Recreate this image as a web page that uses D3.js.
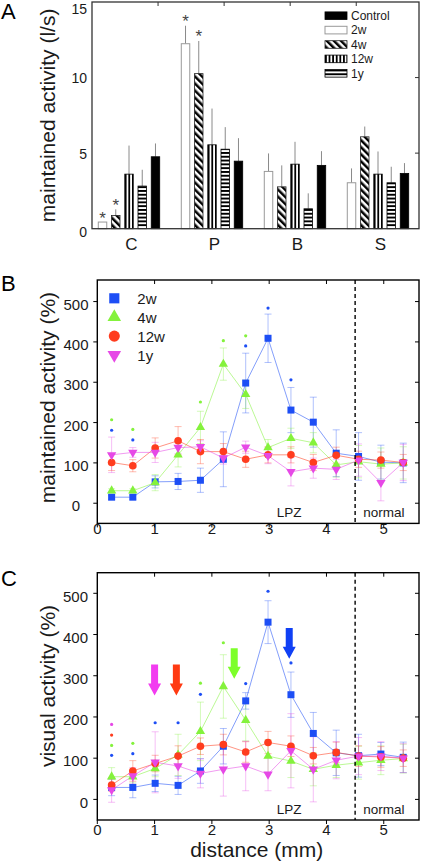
<!DOCTYPE html>
<html><head><meta charset="utf-8">
<script src="https://cdn.jsdelivr.net/npm/d3@7"></script>
<style>body{margin:0;background:#fff}svg{display:block;font-family:"Liberation Sans",Arial,sans-serif}</style>
</head><body><svg id="c" width="425" height="868"></svg>
<script>
// ---------- Panel A data ----------
const categories = ['C','P','B','S'];
const barSeries = ['2w','4w','12w','1y','Control'];
const bar2w = [0.44, 12.24, 3.79, 3.04];
const bar2wErr = [0.0, 1.19, 1.19, 0.95];
const bar4w = [0.88, 10.26, 2.77, 6.08];
const bar4wErr = [0.40, 2.16, 1.42, 0.68];
const bar12w = [3.61, 5.55, 4.27, 3.61];
const bar12wErr = [1.89, 2.40, 1.48, 1.50];
const bar1y = [2.82, 5.26, 1.32, 3.04];
const bar1yErr = [1.08, 1.46, 1.02, 1.06];
const barControl = [4.76, 4.47, 4.19, 3.66];
const barControlErr = [0.88, 1.52, 0.94, 0.68];
const starredBars = [['C','2w'],['C','4w'],['P','2w'],['P','4w']];
const yTicksA = [0,5,10,15];
const legendOrderA = ['Control','2w','4w','12w','1y'];

// ---------- Panels B/C data ----------
const seriesKeys = ['2w','4w','12w','1y'];
const distances = [0.25, 0.62, 1.01, 1.41, 1.8, 2.2, 2.59, 2.98, 3.38, 3.77, 4.17, 4.56, 4.95, 5.34];
const b2w   = [15, 15, 53, 54, 57, 109, 298, 409, 231, 201, 124, 116, 102, 100];
const b2wErr= [5, 5, 15, 20, 30, 68, 74, 60, 56, 62, 58, 59, 42, 49];
const b4w   = [31, 31, 51, 120, 188, 345, 270, 138, 161, 150, 95, 103, 97, 100];
const b4wErr= [5, 5, 20, 30, 40, 40, 35, 20, 25, 25, 30, 40, 40, 40];
const b12w  = [101, 93, 137, 155, 128, 128, 109, 120, 120, 101, 119, 109, 107, 101];
const b12wErr=[20, 15, 25, 35, 30, 20, 20, 20, 20, 20, 20, 20, 20, 20];
const b1y   = [120, 126, 126, 138, 140, 112, 139, 118, 78, 87, 84, 107, 51, 101];
const b1yErr= [44, 12, 25, 15, 15, 15, 15, 20, 35, 25, 25, 40, 45, 45];

const c2w   = [29, 29, 39, 34, 69, 129, 239, 430, 254, 160, 113, 106, 110, 102];
const c2wErr= [20, 25, 20, 22, 30, 43, 20, 52, 55, 51, 55, 52, 28, 37];
const c4w   = [55, 55, 75, 108, 165, 274, 192, 105, 93, 73, 83, 89, 95, 99];
const c4wErr= [22, 15, 20, 50, 71, 77, 50, 40, 40, 40, 30, 40, 35, 35];
const c12w  = [35, 69, 87, 105, 129, 133, 115, 138, 129, 106, 114, 105, 103, 100];
const c12wErr=[15, 25, 20, 25, 20, 25, 25, 27, 25, 20, 25, 25, 25, 20];
const c1y   = [23, 57, 90, 81, 63, 73, 81, 61, 118, 73, 95, 105, 105, 100];
const c1yErr= [30, 20, 74, 30, 35, 65, 60, 40, 90, 79, 45, 45, 35, 35];

const sigB = [['2w',0,181],['2w',1,157],['2w',6,390],['2w',7,484],['2w',8,306],
              ['4w',0,207],['4w',1,183],['4w',4,251],['4w',5,403],['4w',6,415]];
const sigC = [['2w',0,107],['2w',1,111],['2w',2,186],['2w',3,186],['2w',4,255],['2w',6,281],['2w',7,505],['2w',8,331],
              ['4w',0,131],['4w',1,136],['4w',4,282],['4w',5,380],['12w',0,156],['1y',0,182]];
const arrowSeries = ['1y','12w','4w','2w'];
const arrowX = [1.0, 1.38, 2.39, 3.35];
const arrowFrom = [327, 327, 367, 416];
const arrowTo = [252, 252, 293, 341];
const xTicksBC = [0,1,2,3,4,5];
const yTicksBC = [0,100,200,300,400,500];
const boundaryX = 4.5;

// ---------- styles ----------
const FONT_DARK = '#1a1a1a';
const seriesColors = {'2w':'#1d4ef5','4w':'#84f23c','12w':'#ff3c1e','1y':'#e648e6'};
const arrowColors = {'2w':'#1040f5','4w':'#7dff2a','12w':'#ff3a12','1y':'#f23cf0'};

const svg = d3.select('#c');
const defs = svg.append('defs');
const pd = defs.append('pattern').attr('id','pDiag').attr('patternUnits','userSpaceOnUse')
  .attr('width',5).attr('height',5).attr('patternTransform','rotate(-45)');
pd.append('rect').attr('width',5).attr('height',5).attr('fill','#fff');
pd.append('rect').attr('width',2.5).attr('height',5).attr('fill','#000');
const pv = defs.append('pattern').attr('id','pVert').attr('patternUnits','userSpaceOnUse')
  .attr('width',3.6).attr('height',10);
pv.append('rect').attr('width',3.6).attr('height',10).attr('fill','#fff');
pv.append('rect').attr('width',1.8).attr('height',10).attr('fill','#000');
const ph = defs.append('pattern').attr('id','pHoriz').attr('patternUnits','userSpaceOnUse')
  .attr('width',10).attr('height',3.8);
ph.append('rect').attr('width',10).attr('height',3.8).attr('fill','#fff');
ph.append('rect').attr('width',10).attr('height',1.9).attr('fill','#000');

const barStyle = {
  '2w': {fill:'#fff', stroke:'#999', sw:1},
  '4w': {fill:'url(#pDiag)', stroke:'#222', sw:0.8},
  '12w': {fill:'url(#pVert)', stroke:'#000', sw:0.8},
  '1y': {fill:'url(#pHoriz)', stroke:'#000', sw:0.8},
  'Control': {fill:'#000', stroke:'#000', sw:0.8}
};

// ================= Panel A =================
const barVals = {'2w':bar2w,'4w':bar4w,'12w':bar12w,'1y':bar1y,'Control':barControl};
const barErrs = {'2w':bar2wErr,'4w':bar4wErr,'12w':bar12wErr,'1y':bar1yErr,'Control':barControlErr};
const x0 = d3.scaleBand().domain(categories).range([87.5,419.5]);
const x1 = d3.scaleBand().domain(barSeries).range([-33.1,33.1]).paddingInner(0.36).paddingOuter(0.18);
const yA = d3.scaleLinear().domain([0,15]).range([228.7,2]);
const xNumA = d3.scaleLinear().domain([0,4.95]).range([92,419]);
const gA = svg.append('g');

barSeries.forEach(s => {
  categories.forEach((c,j) => {
    const v = barVals[s][j], e = barErrs[s][j];
    const bx = x0(c) + x0.bandwidth()/2 + x1(s);
    const bw = x1.bandwidth();
    const g = gA.append('g').attr('transform',`translate(${bx},0)`);
    if (e > 0) g.append('line').attr('x1',bw/2).attr('x2',bw/2).attr('y1',yA(v)).attr('y2',yA(v+e))
      .attr('stroke','#8a8a8a').attr('stroke-width',1);
    const st = barStyle[s];
    g.append('rect').attr('x',0).attr('y',yA(v)).attr('width',bw).attr('height',yA(0)-yA(v))
      .attr('fill',st.fill).attr('stroke',st.stroke).attr('stroke-width',st.sw);
  });
});
starredBars.forEach(([c,s]) => {
  const j = categories.indexOf(c);
  const v = barVals[s][j] + barErrs[s][j];
  gA.append('text').attr('x', x0(c)+x0.bandwidth()/2 + x1(s) + x1.bandwidth()/2)
    .attr('y', yA(v) - 8 + 9.5).attr('text-anchor','middle').attr('font-size',17).attr('fill','#444').text('*');
});
gA.append('rect').attr('x',92).attr('y',yA(15)).attr('width',327).attr('height',yA(0)-yA(15))
  .attr('fill','none').attr('stroke','#333').attr('stroke-width',1.3);
[1,2,3,4].forEach(t => gA.append('line').attr('x1',xNumA(t)).attr('x2',xNumA(t)).attr('y1',yA(15)).attr('y2',yA(15)+4).attr('stroke','#333'));
[5,10].forEach(t => gA.append('line').attr('x1',419).attr('x2',415).attr('y1',yA(t)).attr('y2',yA(t)).attr('stroke','#333'));
yTicksA.forEach(t => gA.append('text').attr('x',87).attr('y',Math.max(13.5, yA(t)+5.5 + (t===0?3:0))).attr('text-anchor','end')
  .attr('font-size',14).attr('fill',FONT_DARK).text(t));
categories.forEach(c => gA.append('text').attr('x',x0(c)+x0.bandwidth()/2+2.5).attr('y',250)
  .attr('text-anchor','middle').attr('font-size',17).attr('fill',FONT_DARK).text(c));
gA.append('text').attr('transform',`translate(55,${(yA(0)+yA(15))/2}) rotate(-90)`).attr('text-anchor','middle')
  .attr('font-size',21).attr('fill',FONT_DARK).text('maintained activity (l/s)');
legendOrderA.forEach((s,i) => {
  const cy = 15.7 + i*14.4;
  const g = gA.append('g').attr('transform',`translate(325,${cy-3.8})`);
  const st = barStyle[s];
  g.append('rect').attr('width',22).attr('height',7.6).attr('fill',st.fill).attr('stroke',st.stroke).attr('stroke-width',st.sw);
  gA.append('text').attr('x',351).attr('y',cy+4.3).attr('font-size',12).attr('fill',FONT_DARK).text(s);
});
svg.append('text').attr('x',1).attr('y',19).attr('font-size',22).attr('fill','#000').text('A');

// ================= Panels B & C =================
const symbolOf = {'2w':d3.symbolSquare,'4w':d3.symbolTriangle,'12w':d3.symbolCircle,'1y':d3.symbolTriangle};
const sizeOf = {'2w':49,'4w':38,'12w':46,'1y':38};
const rotOf = {'2w':0,'4w':0,'12w':0,'1y':180};

function linePanel(o) {
  const x = d3.scaleLinear().domain([0,5.615]).range([97.3,419]);
  const y = o.y;
  const g = svg.append('g');
  const [yb, yt] = y.range();
  seriesKeys.forEach(s => {
    const col = seriesColors[s];
    o.vals[s].forEach((v,i) => {
      const e = o.errs[s][i], cx = x(distances[i]);
      const eg = g.append('g').attr('stroke',col).attr('stroke-opacity',0.35).attr('stroke-width',1);
      eg.append('line').attr('x1',cx).attr('x2',cx).attr('y1',y(v-e)).attr('y2',y(v+e));
      eg.append('line').attr('x1',cx-3.5).attr('x2',cx+3.5).attr('y1',y(v-e)).attr('y2',y(v-e));
      eg.append('line').attr('x1',cx-3.5).attr('x2',cx+3.5).attr('y1',y(v+e)).attr('y2',y(v+e));
    });
  });
  const line = d3.line().x((d,i)=>x(distances[i])).y(d=>y(d));
  seriesKeys.forEach(s => {
    g.append('path').attr('d',line(o.vals[s])).attr('fill','none').attr('stroke',seriesColors[s])
      .attr('stroke-opacity',0.55).attr('stroke-width',1);
  });
  seriesKeys.forEach(s => {
    const sym = d3.symbol().type(symbolOf[s]).size(sizeOf[s]);
    o.vals[s].forEach((v,i) => {
      g.append('path').attr('d',sym()).attr('fill',seriesColors[s])
        .attr('transform',`translate(${x(distances[i])},${y(v)}) rotate(${rotOf[s]})`);
    });
  });
  o.sig.forEach(([s,i,v]) => g.append('circle').attr('cx',x(distances[i])).attr('cy',y(v)).attr('r',1.6).attr('fill',seriesColors[s]));
  if (o.arrows) {
    arrowSeries.forEach((s,i) => {
      const cx = x(arrowX[i]), t = y(arrowFrom[i]), tip = y(arrowTo[i]), hb = tip - 12;
      g.append('path').attr('fill',arrowColors[s])
        .attr('d',`M${cx-3.5},${t}L${cx+3.5},${t}L${cx+3.5},${hb}L${cx+6.5},${hb}L${cx},${tip}L${cx-6.5},${hb}L${cx-3.5},${hb}Z`);
    });
  }
  g.append('line').attr('x1',x(boundaryX)).attr('x2',x(boundaryX)).attr('y1',yt).attr('y2',yb)
    .attr('stroke','#000').attr('stroke-width',1.4).attr('stroke-dasharray','4,3');
  g.append('rect').attr('x',97.3).attr('y',yt).attr('width',419-97.3).attr('height',yb-yt)
    .attr('fill','none').attr('stroke','#000').attr('stroke-width',1.4);
  xTicksBC.forEach(t => {
    if (t>0) g.append('line').attr('x1',x(t)).attr('x2',x(t)).attr('y1',yt).attr('y2',yt+4).attr('stroke','#000');
    g.append('line').attr('x1',x(t)).attr('x2',x(t)).attr('y1',yb).attr('y2',yb+4).attr('stroke','#000');
    g.append('text').attr('x',x(t)).attr('y',yb+o.xLabOff).attr('text-anchor','middle').attr('font-size',15)
      .attr('fill',FONT_DARK).text(t);
  });
  yTicksBC.forEach(t => {
    g.append('line').attr('x1',419).attr('x2',415).attr('y1',y(t)).attr('y2',y(t)).attr('stroke','#000');
    g.append('line').attr('x1',97.3).attr('x2',93.3).attr('y1',y(t)).attr('y2',y(t)).attr('stroke','#000');
    g.append('text').attr('x',o.yLabX).attr('y',y(t)+8.2).attr('text-anchor',o.yLabAnchor).attr('font-size',15)
      .attr('fill',FONT_DARK).text(t);
  });
  g.append('text').attr('x',x(3.35)).attr('y',yb-6).attr('text-anchor','middle').attr('font-size',13.5).attr('fill',FONT_DARK).text('LPZ');
  g.append('text').attr('x',x(5)).attr('y',yb-6).attr('text-anchor','middle').attr('font-size',13.5).attr('fill',FONT_DARK).text('normal');
  g.append('text').attr('transform',`translate(55,${o.yTitleY}) rotate(-90)`).attr('text-anchor','middle')
    .attr('font-size',21).attr('fill',FONT_DARK).text(o.yTitle);
  if (o.legend) {
    seriesKeys.forEach((s,i) => {
      const cy = 298.3 + i*18.9;
      const sym = d3.symbol().type(symbolOf[s]).size(sizeOf[s]*2.1);
      g.append('path').attr('d',sym()).attr('fill',seriesColors[s])
        .attr('transform',`translate(114.3,${cy}) rotate(${rotOf[s]})`);
      g.append('text').attr('x',137.3).attr('y',cy+5.5).attr('font-size',15).attr('fill',FONT_DARK).text(s);
    });
  }
  svg.append('text').attr('x',1).attr('y',o.panelY).attr('font-size',22).attr('fill','#000').text(o.panel);
}

linePanel({
  panel:'B', panelY:291,
  y: d3.scaleLinear().domain([-50,553.5]).range([523.4,280]),
  vals:{'2w':b2w,'4w':b4w,'12w':b12w,'1y':b1y},
  errs:{'2w':b2wErr,'4w':b4wErr,'12w':b12wErr,'1y':b1yErr},
  sig:sigB, arrows:false, legend:true,
  yTitle:'maintained activity (%)', yTitleY:397.5,
  xLabOff:10.5, yLabX:76, yLabAnchor:'middle'
});
linePanel({
  panel:'C', panelY:586,
  y: d3.scaleLinear().domain([-50,550]).range([820,572.7]),
  vals:{'2w':c2w,'4w':c4w,'12w':c12w,'1y':c1y},
  errs:{'2w':c2wErr,'4w':c4wErr,'12w':c12wErr,'1y':c1yErr},
  sig:sigC, arrows:true, legend:false,
  yTitle:'visual activity (%)', yTitleY:686,
  xLabOff:15, yLabX:88, yLabAnchor:'end'
});
svg.append('text').attr('x',256.7).attr('y',857).attr('text-anchor','middle').attr('font-size',21)
  .attr('fill',FONT_DARK).text('distance (mm)');
</script></body></html>
